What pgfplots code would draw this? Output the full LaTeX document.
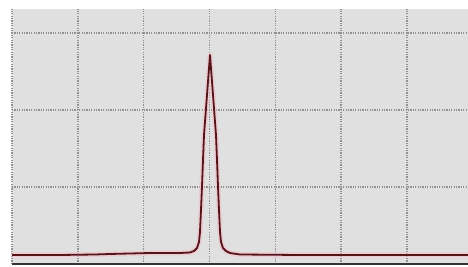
\documentclass[border=0pt]{standalone}
\usepackage{pgfplots}
\pgfplotsset{compat=1.18}
\definecolor{bgc}{RGB}{224,224,224}
\definecolor{gridc}{RGB}{145,145,145}
\definecolor{trace}{RGB}{85,20,26}
\definecolor{halo}{RGB}{240,196,204}
\begin{document}
\begin{tikzpicture}[x=1pt,y=1pt]
\path[use as bounding box] (0,0) rectangle (468,267);
\begin{axis}[
  at={(12pt,3pt)}, anchor=south west,
  scale only axis, width=456pt, height=255pt,
  xmin=12, xmax=468, ymin=0, ymax=255,
  xtick={12,77.8,143.6,209.4,275.2,341,406.8}, ytick={0,77,154,231},
  xticklabels={}, yticklabels={},
  major tick length=0pt,
  grid=major,
  major grid style={gridc, line width=1.4pt, dash pattern=on 1.2pt off 1.2pt},
  axis background/.style={fill=bgc},
  axis x line*=bottom, axis y line*=left,
  x axis line style={draw=black!80, line width=1.5pt, -},
  y axis line style={draw=none, -},
  clip=true,
]
\pgfplotstableread{
x y
12 9
60 9
95 9.5
110 10
150 11
180 11
190 11.5
194 13
197 16
199 22
200 32
201 54
202 78
203 104
204 129
205.5 149
207 169
208.5 189
210 209
211.5 189
213 169
214.5 149
216 129
217 104
218 78
219 54
220 32
221 22
223 16
226 13
230 11
240 9.5
300 9
468 9
}\trace
\addplot[halo, line width=5pt, opacity=0.7, line join=round] table {\trace};
\addplot[trace, line width=1.8pt, line join=round] table {\trace};
\end{axis}
\end{tikzpicture}
\end{document}
